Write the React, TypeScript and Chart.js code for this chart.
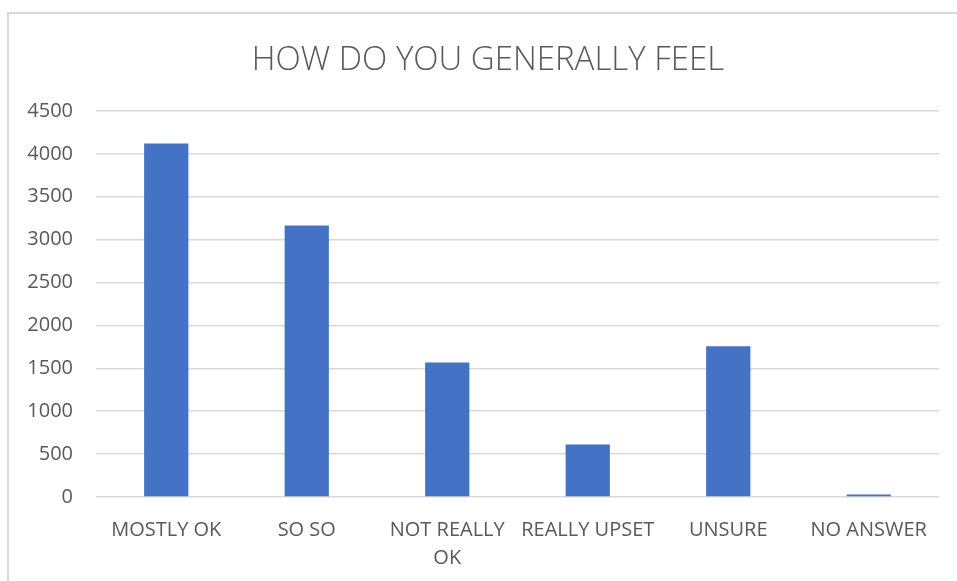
import React, { useEffect, useRef } from "react";
import { Chart, registerables } from "chart.js";

Chart.register(...registerables);

const TITLE = "HOW DO YOU GENERALLY FEEL";
const categories: (string | string[])[] = [
  "MOSTLY OK",
  "SO SO",
  ["NOT REALLY", "OK"],
  "REALLY UPSET",
  "UNSURE",
  "NO ANSWER",
];
const counts: number[] = [4122, 3166, 1568, 612, 1758, 30];
const yMin = 0;
const yMax = 4500;
const yStep = 500;

const FONT = "'Open Sans', 'Noto Sans', sans-serif";
const TEXT = "#595959";
const GRID = "#d9d9d9";
const BAR = "#4472C4";

const titlePlugin = {
  id: "centeredTitle",
  afterDraw(chart: any) {
    const ctx = chart.ctx;
    ctx.save();
    ctx.fillStyle = TEXT;
    ctx.font = `300 33px ${FONT}`;
    ctx.textAlign = "center";
    ctx.textBaseline = "alphabetic";
    ctx.fillText(TITLE, 488, 69.5);
    ctx.restore();
  },
};

export default function App() {
  const ref = useRef<HTMLCanvasElement | null>(null);

  useEffect(() => {
    if (!ref.current) return;
    const chart = new Chart(ref.current, {
      type: "bar",
      data: {
        labels: categories,
        datasets: [
          {
            data: counts,
            backgroundColor: BAR,
            borderWidth: 0,
            categoryPercentage: 1,
            barPercentage: 0.315,
          },
        ],
      },
      plugins: [titlePlugin],
      options: {
        responsive: false,
        animation: false,
        devicePixelRatio: 1,
        layout: { padding: { left: 0, right: 18, top: 111, bottom: 0 } },
        plugins: {
          legend: { display: false },
          tooltip: { enabled: false },
          title: { display: false },
        },
        scales: {
          x: {
            grid: { display: false, drawTicks: false },
            border: { display: false },
            ticks: {
              color: TEXT,
              font: { family: FONT, size: 20, lineHeight: 1.4 },
              padding: 19,
              maxRotation: 0,
              autoSkip: false,
            },
            afterFit: (s: any) => {
              s.height = 84;
            },
          },
          y: {
            min: yMin,
            max: yMax,
            grid: { color: GRID, lineWidth: 1.5, drawTicks: false },
            border: { display: false },
            ticks: {
              stepSize: yStep,
              color: TEXT,
              font: { family: FONT, size: 20 },
              padding: 23,
              callback: (v: any) => String(v),
            },
            afterFit: (s: any) => {
              s.width = 96;
            },
          },
        },
      },
    });
    return () => chart.destroy();
  }, []);

  return (
    <div style={{ position: "fixed", left: 0, top: 0, width: 957, height: 581, background: "#fff" }}>
      <div
        style={{
          position: "absolute",
          left: 7,
          top: 12,
          width: 980,
          height: 600,
          border: "2px solid #d9d9d9",
          boxSizing: "border-box",
        }}
      />
      <canvas ref={ref} width={957} height={581} style={{ position: "absolute", left: 0, top: 0 }} />
    </div>
  );
}
